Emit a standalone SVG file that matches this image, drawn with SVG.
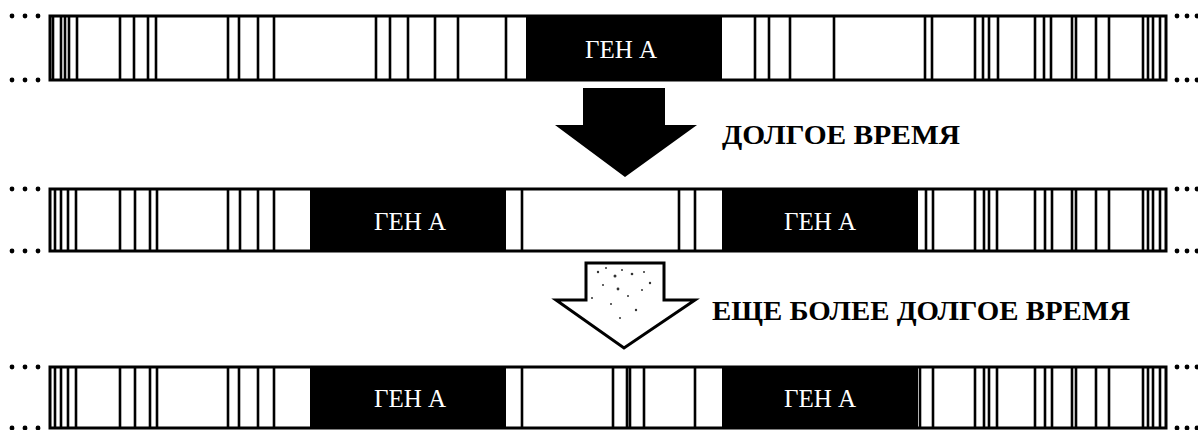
<svg xmlns="http://www.w3.org/2000/svg" width="1198" height="430" viewBox="0 0 1198 430">
<style>
.edge{stroke:#000;stroke-width:3;fill:none}
.band{stroke:#000;stroke-width:2.6}
.gene{fill:#000}
.gtxt{font-family:"Liberation Serif","DejaVu Serif",serif;font-size:25px;fill:#fff;text-anchor:middle}
.lbl{font-family:"Liberation Serif","DejaVu Serif",serif;font-weight:bold;font-size:27px;fill:#000}
.dot{fill:#000}
</style>
<defs>
<g id="dotsL"><circle cx="12" cy="0" r="2.4"/><circle cx="25" cy="0" r="2.4"/><circle cx="38" cy="0" r="2.4"/></g>
<g id="dotsR"><circle cx="1177" cy="0" r="2.4"/><circle cx="1187" cy="0" r="2.4"/><circle cx="1197" cy="0" r="2.4"/></g>
</defs>

<g id="bar1">
<use href="#dotsL" y="16"/><use href="#dotsL" y="80"/><use href="#dotsR" y="16"/><use href="#dotsR" y="80"/>
<rect class="gene" x="526" y="16" width="196" height="64"/>
<path class="band" d="M53 16V80M61 16V80M65 16V80M69 16V80M77 16V80M120 16V80M134 16V80M148 16V80M156 16V80M228 16V80M239 16V80M258 16V80M274 16V80M376 16V80M390 16V80M408 16V80M435 16V80M458 16V80M506 16V80M755 16V80M769 16V80M790 16V80M834 16V80M925 16V80M932 16V80M975 16V80M983 16V80M989 16V80M998 16V80M1035 16V80M1044 16V80M1051 16V80M1072 16V80M1076 16V80M1096 16V80M1109 16V80M1143 16V80M1148 16V80M1153 16V80M1160 16V80"/>
<rect class="edge" x="50" y="16" width="1116" height="64"/>
<text class="gtxt" x="621" y="58">ГЕН А</text>
</g>

<g id="bar2">
<use href="#dotsL" y="189"/><use href="#dotsL" y="251"/><use href="#dotsR" y="189"/><use href="#dotsR" y="251"/>
<rect class="gene" x="310" y="189" width="196" height="62"/>
<rect class="gene" x="722" y="189" width="196" height="62"/>
<path class="band" d="M55 189V251M61 189V251M68 189V251M76 189V251M120 189V251M135 189V251M150 189V251M157 189V251M228 189V251M240 189V251M258 189V251M274 189V251M522 189V251M679 189V251M695 189V251M926 189V251M933 189V251M975 189V251M984 189V251M989 189V251M997 189V251M1035 189V251M1045 189V251M1052 189V251M1072 189V251M1076 189V251M1096 189V251M1109 189V251M1143 189V251M1148 189V251M1153 189V251M1160 189V251"/>
<rect class="edge" x="50" y="189" width="1116" height="62"/>
<text class="gtxt" x="410" y="230">ГЕН А</text>
<text class="gtxt" x="820" y="230">ГЕН А</text>
</g>

<g id="bar3">
<use href="#dotsL" y="367"/><use href="#dotsL" y="428"/><use href="#dotsR" y="367"/><use href="#dotsR" y="428"/>
<rect class="gene" x="310" y="367" width="196" height="61"/>
<rect class="gene" x="722" y="367" width="196" height="61"/>
<path class="band" d="M55 367V428M61 367V428M68 367V428M76 367V428M120 367V428M135 367V428M150 367V428M157 367V428M228 367V428M239 367V428M258 367V428M274 367V428M522 367V428M613 367V428M627 367V428M630 367V428M644 367V428M695 367V428M920 367V428M933 367V428M975 367V428M984 367V428M989 367V428M997 367V428M1035 367V428M1045 367V428M1052 367V428M1072 367V428M1076 367V428M1096 367V428M1109 367V428M1143 367V428M1148 367V428M1153 367V428M1160 367V428"/>
<rect class="edge" x="50" y="367" width="1116" height="61"/>
<text class="gtxt" x="410" y="407">ГЕН А</text>
<text class="gtxt" x="820" y="407">ГЕН А</text>
</g>

<g id="connectors">
<g id="arrow1">
<polygon points="583,88 665,88 665,125 697,125 625,177 555,125 583,125" fill="#000"/>
<text class="lbl" x="722" y="144" textLength="238" lengthAdjust="spacingAndGlyphs">ДОЛГОЕ ВРЕМЯ</text>
</g>
<g id="arrow2">
<polygon points="586,263 664,263 664,300 695,300 624,348 556,300 586,300" fill="#fff" stroke="#000" stroke-width="3" stroke-linejoin="miter"/>
<g fill="#333">
<circle cx="598" cy="272" r="1.2"/><circle cx="606" cy="268" r="1"/><circle cx="615" cy="276" r="1.5"/><circle cx="622" cy="270" r="1"/><circle cx="632" cy="274" r="1.3"/><circle cx="644" cy="272" r="1"/><circle cx="650" cy="283" r="1.2"/><circle cx="603" cy="285" r="1"/><circle cx="618" cy="289" r="1.4"/><circle cx="628" cy="296" r="1"/><circle cx="611" cy="304" r="1"/><circle cx="636" cy="310" r="1.2"/><circle cx="620" cy="318" r="1"/><circle cx="592" cy="298" r="1"/><circle cx="642" cy="290" r="1"/>
</g>
<text class="lbl" x="712" y="320" textLength="418" lengthAdjust="spacingAndGlyphs">ЕЩЕ БОЛЕЕ ДОЛГОЕ ВРЕМЯ</text>
</g>
</g>
</svg>
